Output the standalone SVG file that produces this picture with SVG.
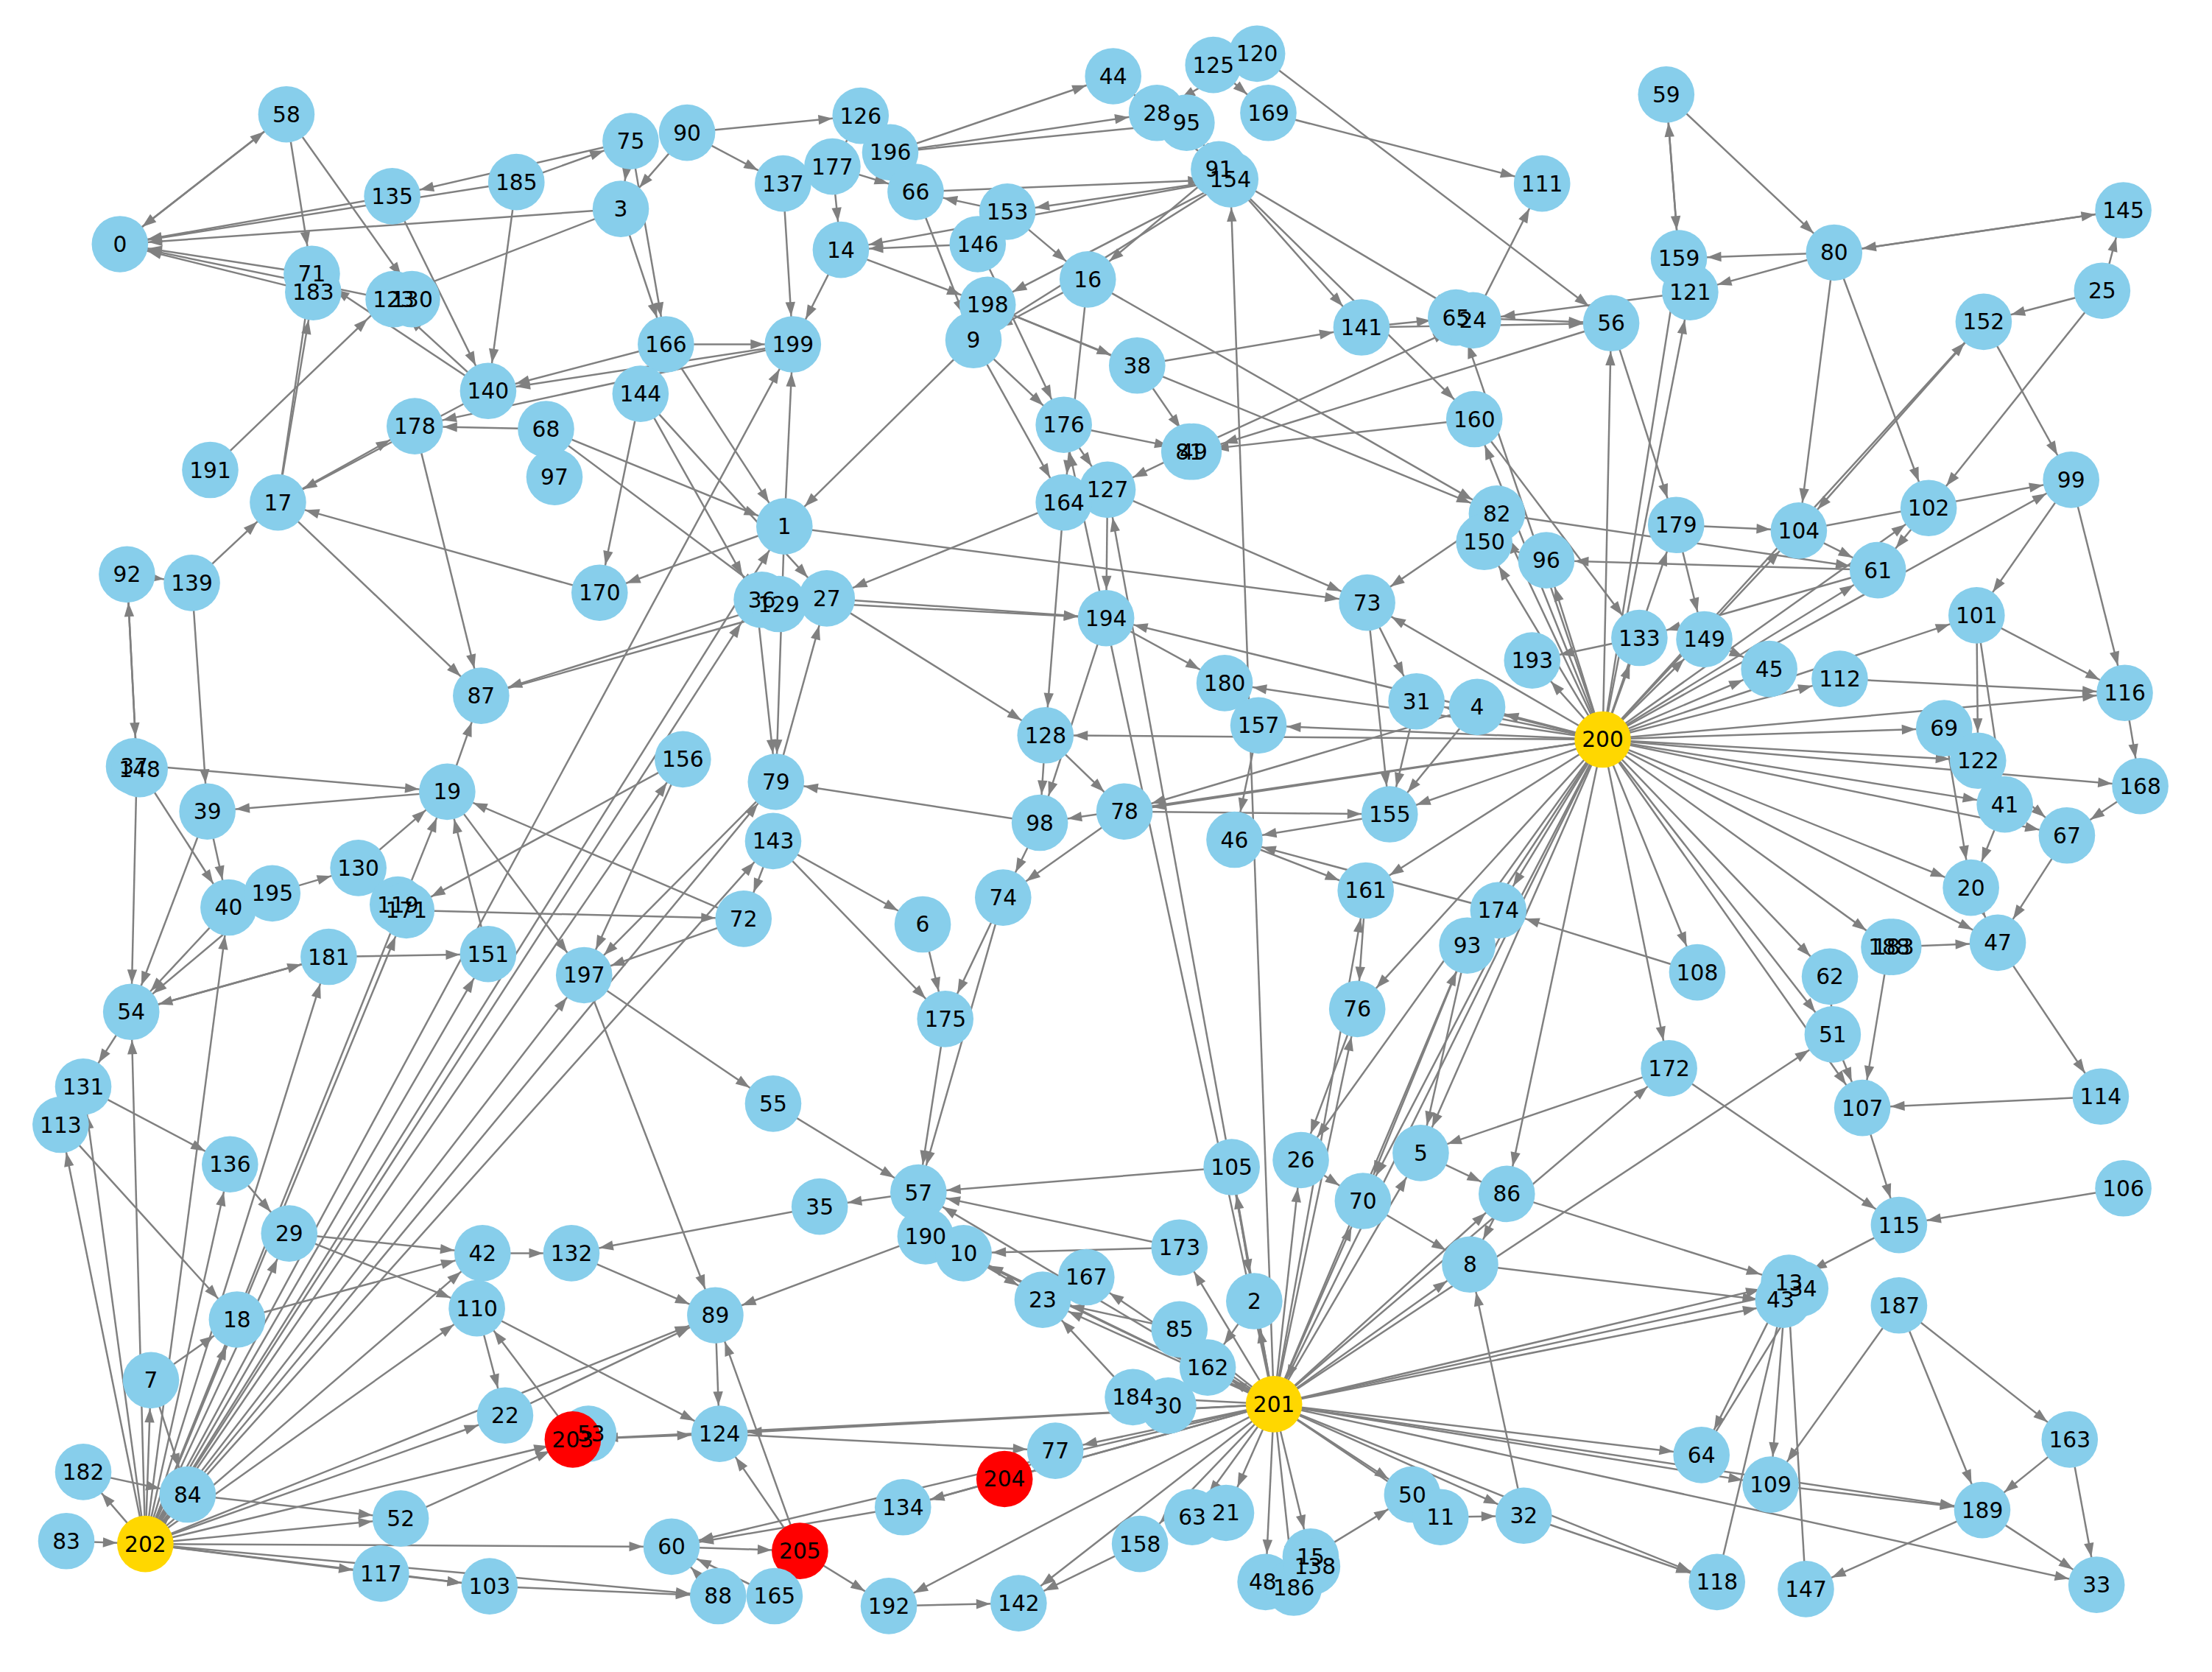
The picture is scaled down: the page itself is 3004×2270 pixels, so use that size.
<svg xmlns="http://www.w3.org/2000/svg" width="3004" height="2270" viewBox="0 0 3004 2270">
<style>
.e line{stroke:#808080;stroke-width:1.3;marker-end:url(#a)}
.n circle{fill:#87CEEB}
.y circle{fill:#FFD700}
.r circle, circle.r{fill:#FF0000}
text{font-family:"DejaVu Sans",sans-serif;font-size:15.5px;text-anchor:middle;dominant-baseline:central;fill:#000}
</style>
<defs>
<marker id="a" markerUnits="userSpaceOnUse" viewBox="0 0 40 10" refX="30" refY="3.5" markerWidth="40" markerHeight="10" orient="auto" overflow="visible"><path d="M0,0 L10,3.5 L0,7 z" fill="#808080"/></marker>
</defs>
<rect width="3004" height="2270" fill="#fff"/>
<g transform="scale(1.916)">
<g id="edges" class="e">
<line x1="1136" y1="524" x2="969" y2="427"/><line x1="1136" y1="524" x2="1086" y2="468"/><line x1="1136" y1="524" x2="1162" y2="452"/><line x1="1136" y1="524" x2="1208" y2="453"/><line x1="1136" y1="524" x2="1254" y2="474"/><line x1="1136" y1="524" x2="1304" y2="481"/><line x1="1136" y1="524" x2="1506" y2="491"/><line x1="1136" y1="524" x2="1378" y2="516"/><line x1="1136" y1="524" x2="1402" y2="539"/><line x1="1136" y1="524" x2="1517" y2="557"/><line x1="1136" y1="524" x2="1421" y2="570"/><line x1="1136" y1="524" x2="1465" y2="592"/><line x1="1136" y1="524" x2="1397" y2="629"/><line x1="1136" y1="524" x2="1339" y2="671"/><line x1="1136" y1="524" x2="1416" y2="668"/><line x1="1136" y1="524" x2="1203" y2="689"/><line x1="1136" y1="524" x2="1183" y2="757"/><line x1="1136" y1="524" x2="1040" y2="670"/><line x1="1136" y1="524" x2="1062" y2="645"/><line x1="1136" y1="524" x2="968" y2="631"/><line x1="1136" y1="524" x2="985" y2="577"/><line x1="1136" y1="524" x2="892" y2="514"/><line x1="1136" y1="524" x2="1004" y2="497"/><line x1="1136" y1="524" x2="1047" y2="501"/><line x1="1136" y1="524" x2="741" y2="521"/><line x1="1136" y1="524" x2="868" y2="484"/><line x1="1136" y1="524" x2="784" y2="438"/><line x1="1136" y1="524" x2="1096" y2="397"/><line x1="1136" y1="524" x2="1052" y2="384"/><line x1="1136" y1="524" x2="1061" y2="364"/><line x1="1136" y1="524" x2="1188" y2="372"/><line x1="1136" y1="524" x2="1275" y2="376"/><line x1="1136" y1="524" x2="1331" y2="404"/><line x1="1136" y1="524" x2="1401" y2="436"/><line x1="1136" y1="524" x2="1468" y2="340"/><line x1="1136" y1="524" x2="1367" y2="360"/><line x1="1136" y1="524" x2="1406" y2="228"/><line x1="1136" y1="524" x2="1142" y2="229"/><line x1="1136" y1="524" x2="1045" y2="297"/><line x1="1136" y1="524" x2="1034" y2="225"/><line x1="1136" y1="524" x2="962" y2="715"/><line x1="1136" y1="524" x2="1007" y2="817"/><line x1="1136" y1="524" x2="1068" y2="846"/><line x1="1136" y1="524" x2="1297" y2="692"/><line x1="1136" y1="524" x2="1299" y2="733"/><line x1="1136" y1="524" x2="1320" y2="785"/><line x1="1136" y1="524" x2="903" y2="995"/><line x1="1136" y1="524" x2="922" y2="822"/><line x1="1136" y1="524" x2="966" y2="851"/><line x1="1136" y1="524" x2="1190" y2="183"/><line x1="1136" y1="524" x2="1198" y2="207"/><line x1="1136" y1="524" x2="797" y2="575"/><line x1="1136" y1="524" x2="737" y2="583"/>
<line x1="903" y1="995" x2="889" y2="922"/><line x1="903" y1="995" x2="836" y2="942"/><line x1="903" y1="995" x2="856" y2="969"/><line x1="903" y1="995" x2="803" y2="990"/><line x1="903" y1="995" x2="836" y2="884"/><line x1="903" y1="995" x2="873" y2="827"/><line x1="903" y1="995" x2="922" y2="822"/><line x1="903" y1="995" x2="966" y2="851"/><line x1="903" y1="995" x2="1007" y2="817"/><line x1="903" y1="995" x2="1042" y2="896"/><line x1="903" y1="995" x2="1068" y2="846"/><line x1="903" y1="995" x2="1040" y2="670"/><line x1="903" y1="995" x2="1267" y2="909"/><line x1="903" y1="995" x2="1265" y2="923"/><line x1="903" y1="995" x2="1279" y2="913"/><line x1="903" y1="995" x2="1206" y2="1031"/><line x1="903" y1="995" x2="1255" y2="1052"/><line x1="903" y1="995" x2="1080" y2="1074"/><line x1="903" y1="995" x2="1021" y2="1075"/><line x1="903" y1="995" x2="1001" y2="1059"/><line x1="903" y1="995" x2="929" y2="1103"/><line x1="903" y1="995" x2="897" y2="1121"/><line x1="903" y1="995" x2="917" y2="1125"/><line x1="903" y1="995" x2="845" y2="1075"/><line x1="903" y1="995" x2="869" y2="1072"/><line x1="903" y1="995" x2="808" y2="1094"/><line x1="903" y1="995" x2="722" y2="1136"/><line x1="903" y1="995" x2="748" y2="1028"/><line x1="903" y1="995" x2="712" y2="1048"/><line x1="903" y1="995" x2="640" y2="1068"/><line x1="903" y1="995" x2="630" y2="1138"/><line x1="903" y1="995" x2="770" y2="905"/><line x1="903" y1="995" x2="739" y2="921"/><line x1="903" y1="995" x2="683" y2="888"/><line x1="903" y1="995" x2="656" y2="876"/><line x1="903" y1="995" x2="651" y2="845"/><line x1="903" y1="995" x2="510" y2="1016"/><line x1="903" y1="995" x2="408" y2="1020"/><line x1="903" y1="995" x2="476" y2="1096"/><line x1="903" y1="995" x2="754" y2="301"/><line x1="903" y1="995" x2="785" y2="347"/><line x1="903" y1="995" x2="872" y2="127"/><line x1="903" y1="995" x2="962" y2="715"/><line x1="903" y1="995" x2="968" y2="631"/><line x1="903" y1="995" x2="1183" y2="757"/><line x1="903" y1="995" x2="1299" y2="733"/><line x1="903" y1="995" x2="1405" y2="1070"/><line x1="903" y1="995" x2="1217" y2="1121"/><line x1="903" y1="995" x2="1486" y2="1123"/>
<line x1="103" y1="1094" x2="133" y2="1059"/><line x1="103" y1="1094" x2="107" y2="978"/><line x1="103" y1="1094" x2="59" y2="1043"/><line x1="103" y1="1094" x2="93" y2="717"/><line x1="103" y1="1094" x2="59" y2="770"/><line x1="103" y1="1094" x2="43" y2="797"/><line x1="103" y1="1094" x2="168" y2="935"/><line x1="103" y1="1094" x2="205" y2="874"/><line x1="103" y1="1094" x2="163" y2="825"/><line x1="103" y1="1094" x2="270" y2="1115"/><line x1="103" y1="1094" x2="347" y2="1124"/><line x1="103" y1="1094" x2="476" y2="1096"/><line x1="103" y1="1094" x2="509" y2="1131"/><line x1="103" y1="1094" x2="284" y2="1076"/><line x1="103" y1="1094" x2="358" y2="1003"/><line x1="103" y1="1094" x2="507" y2="932"/><line x1="103" y1="1094" x2="342" y2="888"/><line x1="103" y1="1094" x2="338" y2="927"/><line x1="103" y1="1094" x2="414" y2="691"/><line x1="103" y1="1094" x2="346" y2="676"/><line x1="103" y1="1094" x2="484" y2="538"/><line x1="103" y1="1094" x2="550" y2="554"/><line x1="103" y1="1094" x2="548" y2="596"/><line x1="103" y1="1094" x2="562" y2="244"/><line x1="103" y1="1094" x2="556" y2="373"/><line x1="103" y1="1094" x2="536" y2="425"/><line x1="103" y1="1094" x2="288" y2="645"/><line x1="103" y1="1094" x2="317" y2="561"/><line x1="103" y1="1094" x2="233" y2="678"/><line x1="103" y1="1094" x2="162" y2="643"/><line x1="103" y1="1094" x2="408" y2="1020"/>
<line x1="85" y1="173" x2="203" y2="81"/><line x1="203" y1="81" x2="85" y2="173"/><line x1="366" y1="129" x2="85" y2="173"/><line x1="278" y1="139" x2="85" y2="173"/><line x1="221" y1="194" x2="85" y2="173"/><line x1="222" y1="207" x2="85" y2="173"/><line x1="275" y1="212" x2="85" y2="173"/><line x1="440" y1="148" x2="85" y2="173"/><line x1="203" y1="81" x2="221" y2="194"/><line x1="203" y1="81" x2="296" y2="212"/><line x1="278" y1="139" x2="346" y2="277"/><line x1="447" y1="100" x2="278" y2="139"/><line x1="366" y1="129" x2="447" y2="100"/><line x1="366" y1="129" x2="346" y2="277"/><line x1="447" y1="100" x2="440" y2="148"/><line x1="447" y1="100" x2="472" y2="244"/><line x1="487" y1="94" x2="610" y2="82"/><line x1="487" y1="94" x2="555" y2="130"/><line x1="487" y1="94" x2="440" y2="148"/><line x1="440" y1="148" x2="472" y2="244"/><line x1="440" y1="148" x2="275" y2="212"/><line x1="610" y1="82" x2="590" y2="118"/><line x1="590" y1="118" x2="596" y2="177"/><line x1="590" y1="118" x2="649" y2="136"/><line x1="555" y1="130" x2="562" y2="244"/><line x1="631" y1="108" x2="789" y2="54"/><line x1="631" y1="108" x2="820" y2="80"/><line x1="631" y1="108" x2="841" y2="87"/><line x1="649" y1="136" x2="872" y2="127"/><line x1="649" y1="136" x2="690" y2="241"/><line x1="789" y1="54" x2="864" y2="120"/><line x1="860" y1="46" x2="899" y2="80"/><line x1="891" y1="38" x2="820" y2="80"/><line x1="841" y1="87" x2="872" y2="127"/><line x1="899" y1="80" x2="1093" y2="130"/><line x1="891" y1="38" x2="1142" y2="229"/><line x1="864" y1="120" x2="1044" y2="227"/><line x1="864" y1="120" x2="771" y2="198"/><line x1="872" y1="127" x2="714" y2="150"/><line x1="872" y1="127" x2="596" y2="177"/><line x1="872" y1="127" x2="700" y2="216"/><line x1="872" y1="127" x2="690" y2="241"/><line x1="872" y1="127" x2="1045" y2="297"/><line x1="872" y1="127" x2="965" y2="232"/><line x1="1181" y1="67" x2="1190" y2="183"/><line x1="1190" y1="183" x2="1181" y2="67"/><line x1="1181" y1="67" x2="1300" y2="179"/><line x1="1300" y1="179" x2="1505" y2="149"/><line x1="1505" y1="149" x2="1300" y2="179"/><line x1="1300" y1="179" x2="1190" y2="183"/><line x1="1300" y1="179" x2="1198" y2="207"/><line x1="1300" y1="179" x2="1367" y2="360"/><line x1="1300" y1="179" x2="1275" y2="376"/><line x1="1198" y1="207" x2="1190" y2="183"/><line x1="1198" y1="207" x2="1044" y2="227"/><line x1="1490" y1="206" x2="1505" y2="149"/><line x1="1490" y1="206" x2="1406" y2="228"/><line x1="1490" y1="206" x2="1367" y2="360"/><line x1="1406" y1="228" x2="1468" y2="340"/><line x1="1406" y1="228" x2="1275" y2="376"/><line x1="596" y1="177" x2="562" y2="244"/><line x1="596" y1="177" x2="700" y2="216"/><line x1="714" y1="150" x2="771" y2="198"/><line x1="714" y1="150" x2="649" y2="136"/><line x1="693" y1="173" x2="596" y2="177"/><line x1="693" y1="173" x2="754" y2="301"/><line x1="771" y1="198" x2="1061" y2="364"/><line x1="771" y1="198" x2="754" y2="356"/><line x1="771" y1="198" x2="690" y2="241"/><line x1="700" y1="216" x2="690" y2="241"/><line x1="700" y1="216" x2="806" y2="259"/><line x1="700" y1="216" x2="1061" y2="364"/><line x1="690" y1="241" x2="556" y2="373"/><line x1="690" y1="241" x2="754" y2="356"/><line x1="690" y1="241" x2="754" y2="301"/><line x1="472" y1="244" x2="346" y2="277"/><line x1="472" y1="244" x2="562" y2="244"/><line x1="472" y1="244" x2="454" y2="279"/><line x1="472" y1="244" x2="556" y2="373"/><line x1="562" y1="244" x2="294" y2="302"/><line x1="562" y1="244" x2="346" y2="277"/><line x1="346" y1="277" x2="197" y2="356"/><line x1="346" y1="277" x2="275" y2="212"/><line x1="346" y1="277" x2="221" y2="194"/><line x1="454" y1="279" x2="425" y2="420"/><line x1="454" y1="279" x2="586" y2="424"/><line x1="454" y1="279" x2="536" y2="425"/><line x1="387" y1="304" x2="556" y2="373"/><line x1="387" y1="304" x2="552" y2="427"/><line x1="387" y1="304" x2="294" y2="302"/><line x1="294" y1="302" x2="341" y2="493"/><line x1="393" y1="338" x2="387" y2="304"/><line x1="149" y1="333" x2="275" y2="212"/><line x1="197" y1="356" x2="221" y2="194"/><line x1="197" y1="356" x2="341" y2="493"/><line x1="197" y1="356" x2="294" y2="302"/><line x1="197" y1="356" x2="222" y2="207"/><line x1="806" y1="259" x2="965" y2="232"/><line x1="806" y1="259" x2="848" y2="320"/><line x1="965" y1="232" x2="1034" y2="225"/><line x1="965" y1="232" x2="1142" y2="229"/><line x1="1034" y1="225" x2="1142" y2="229"/><line x1="1044" y1="227" x2="1093" y2="130"/><line x1="1142" y1="229" x2="848" y2="320"/><line x1="1142" y1="229" x2="1188" y2="372"/><line x1="1045" y1="297" x2="841" y2="320"/><line x1="1045" y1="297" x2="1162" y2="452"/><line x1="754" y1="301" x2="785" y2="347"/><line x1="754" y1="301" x2="848" y2="320"/><line x1="841" y1="320" x2="785" y2="347"/><line x1="841" y1="320" x2="1044" y2="227"/><line x1="785" y1="347" x2="784" y2="438"/><line x1="785" y1="347" x2="969" y2="427"/><line x1="754" y1="356" x2="741" y2="521"/><line x1="754" y1="356" x2="586" y2="424"/><line x1="556" y1="373" x2="562" y2="244"/><line x1="556" y1="373" x2="550" y2="554"/><line x1="556" y1="373" x2="425" y2="420"/><line x1="556" y1="373" x2="969" y2="427"/><line x1="1061" y1="364" x2="1331" y2="404"/><line x1="1061" y1="364" x2="969" y2="427"/><line x1="1052" y1="384" x2="1096" y2="397"/><line x1="1188" y1="372" x2="1208" y2="453"/><line x1="1188" y1="372" x2="1275" y2="376"/><line x1="1275" y1="376" x2="1468" y2="340"/><line x1="1275" y1="376" x2="1331" y2="404"/><line x1="1367" y1="360" x2="1331" y2="404"/><line x1="1468" y1="340" x2="1401" y2="436"/><line x1="1468" y1="340" x2="1506" y2="491"/><line x1="1331" y1="404" x2="1162" y2="452"/><line x1="1331" y1="404" x2="1096" y2="397"/><line x1="90" y1="407" x2="97" y2="542"/><line x1="97" y1="542" x2="90" y2="407"/><line x1="90" y1="407" x2="136" y2="413"/><line x1="136" y1="413" x2="147" y2="575"/><line x1="136" y1="413" x2="197" y2="356"/><line x1="425" y1="420" x2="197" y2="356"/><line x1="536" y1="425" x2="550" y2="554"/><line x1="536" y1="425" x2="784" y2="438"/><line x1="552" y1="427" x2="341" y2="493"/><line x1="586" y1="424" x2="784" y2="438"/><line x1="586" y1="424" x2="741" y2="521"/><line x1="784" y1="438" x2="868" y2="484"/><line x1="784" y1="438" x2="737" y2="583"/><line x1="969" y1="427" x2="1004" y2="497"/><line x1="969" y1="427" x2="985" y2="577"/><line x1="1401" y1="436" x2="1402" y2="539"/><line x1="1401" y1="436" x2="1506" y2="491"/><line x1="1401" y1="436" x2="1421" y2="570"/><line x1="1162" y1="452" x2="1086" y2="468"/><line x1="1208" y1="453" x2="1254" y2="474"/><line x1="1304" y1="481" x2="1506" y2="491"/><line x1="1506" y1="491" x2="1517" y2="557"/><line x1="341" y1="493" x2="586" y2="424"/><line x1="868" y1="484" x2="892" y2="514"/><line x1="892" y1="514" x2="875" y2="595"/><line x1="1004" y1="497" x2="985" y2="577"/><line x1="1047" y1="501" x2="985" y2="577"/><line x1="1047" y1="501" x2="797" y2="575"/><line x1="1378" y1="516" x2="1421" y2="570"/><line x1="1378" y1="516" x2="1397" y2="629"/><line x1="1402" y1="539" x2="1465" y2="592"/><line x1="1517" y1="557" x2="1465" y2="592"/><line x1="741" y1="521" x2="737" y2="583"/><line x1="741" y1="521" x2="797" y2="575"/><line x1="97" y1="542" x2="317" y2="561"/><line x1="97" y1="542" x2="93" y2="717"/><line x1="97" y1="542" x2="162" y2="643"/><line x1="317" y1="561" x2="414" y2="691"/><line x1="317" y1="561" x2="341" y2="493"/><line x1="317" y1="561" x2="147" y2="575"/><line x1="484" y1="538" x2="288" y2="645"/><line x1="484" y1="538" x2="414" y2="691"/><line x1="550" y1="554" x2="414" y2="691"/><line x1="737" y1="583" x2="550" y2="554"/><line x1="550" y1="554" x2="586" y2="424"/><line x1="737" y1="583" x2="711" y2="636"/><line x1="797" y1="575" x2="985" y2="577"/><line x1="797" y1="575" x2="711" y2="636"/><line x1="985" y1="577" x2="875" y2="595"/><line x1="1421" y1="570" x2="1397" y2="629"/><line x1="1465" y1="592" x2="1416" y2="668"/><line x1="147" y1="575" x2="162" y2="643"/><line x1="147" y1="575" x2="93" y2="717"/><line x1="548" y1="596" x2="527" y2="651"/><line x1="548" y1="596" x2="654" y2="655"/><line x1="548" y1="596" x2="670" y2="722"/><line x1="875" y1="595" x2="968" y2="631"/><line x1="162" y1="643" x2="93" y2="717"/><line x1="193" y1="633" x2="93" y2="717"/><line x1="193" y1="633" x2="254" y2="615"/><line x1="254" y1="615" x2="317" y2="561"/><line x1="254" y1="615" x2="282" y2="641"/><line x1="282" y1="641" x2="288" y2="645"/><line x1="288" y1="645" x2="527" y2="651"/><line x1="527" y1="651" x2="317" y2="561"/><line x1="654" y1="655" x2="670" y2="722"/><line x1="711" y1="636" x2="670" y2="722"/><line x1="711" y1="636" x2="651" y2="845"/><line x1="527" y1="651" x2="414" y2="691"/><line x1="1397" y1="629" x2="1416" y2="668"/><line x1="968" y1="631" x2="962" y2="715"/><line x1="1062" y1="645" x2="1040" y2="670"/><line x1="1062" y1="645" x2="875" y2="595"/><line x1="233" y1="678" x2="346" y2="676"/><line x1="233" y1="678" x2="93" y2="717"/><line x1="346" y1="676" x2="317" y2="561"/><line x1="414" y1="691" x2="548" y2="782"/><line x1="414" y1="691" x2="507" y2="932"/><line x1="93" y1="717" x2="59" y2="770"/><line x1="93" y1="717" x2="233" y2="678"/><line x1="1040" y1="670" x2="1007" y2="817"/><line x1="1040" y1="670" x2="966" y2="851"/><line x1="1203" y1="689" x2="1062" y2="645"/><line x1="1297" y1="692" x2="1299" y2="733"/><line x1="1339" y1="671" x2="1416" y2="668"/><line x1="1339" y1="671" x2="1320" y2="785"/><line x1="1416" y1="668" x2="1489" y2="777"/><line x1="962" y1="715" x2="922" y2="822"/><line x1="670" y1="722" x2="651" y2="845"/><line x1="1299" y1="733" x2="1320" y2="785"/><line x1="59" y1="770" x2="43" y2="797"/><line x1="59" y1="770" x2="163" y2="825"/><line x1="43" y1="797" x2="168" y2="935"/><line x1="548" y1="782" x2="651" y2="845"/><line x1="1183" y1="757" x2="1346" y2="868"/><line x1="1183" y1="757" x2="1007" y2="817"/><line x1="1489" y1="777" x2="1320" y2="785"/><line x1="1320" y1="785" x2="1346" y2="868"/><line x1="873" y1="827" x2="889" y2="922"/><line x1="873" y1="827" x2="651" y2="845"/><line x1="922" y1="822" x2="966" y2="851"/><line x1="1007" y1="817" x2="1068" y2="846"/><line x1="163" y1="825" x2="205" y2="874"/><line x1="966" y1="851" x2="1042" y2="896"/><line x1="1068" y1="846" x2="1042" y2="896"/><line x1="1068" y1="846" x2="1267" y2="909"/><line x1="1505" y1="842" x2="1346" y2="868"/><line x1="651" y1="845" x2="581" y2="855"/><line x1="651" y1="845" x2="656" y2="876"/><line x1="581" y1="855" x2="405" y2="888"/><line x1="656" y1="876" x2="507" y2="932"/><line x1="656" y1="876" x2="683" y2="888"/><line x1="683" y1="888" x2="739" y2="921"/><line x1="205" y1="874" x2="342" y2="888"/><line x1="205" y1="874" x2="338" y2="927"/><line x1="342" y1="888" x2="405" y2="888"/><line x1="405" y1="888" x2="507" y2="932"/><line x1="836" y1="884" x2="651" y2="845"/><line x1="836" y1="884" x2="683" y2="888"/><line x1="1346" y1="868" x2="1267" y2="909"/><line x1="1042" y1="896" x2="1265" y2="923"/><line x1="1267" y1="909" x2="1206" y2="1031"/><line x1="1265" y1="923" x2="1255" y2="1052"/><line x1="1346" y1="925" x2="1255" y2="1052"/><line x1="1346" y1="925" x2="1467" y2="1020"/><line x1="1346" y1="925" x2="1405" y2="1070"/><line x1="338" y1="927" x2="510" y2="1016"/><line x1="338" y1="927" x2="358" y2="1003"/><line x1="168" y1="935" x2="342" y2="888"/><line x1="770" y1="905" x2="739" y2="921"/><line x1="507" y1="932" x2="510" y2="1016"/><line x1="889" y1="922" x2="856" y2="969"/><line x1="836" y1="942" x2="739" y2="921"/><line x1="107" y1="978" x2="168" y2="935"/><line x1="107" y1="978" x2="133" y2="1059"/><line x1="856" y1="969" x2="836" y2="942"/><line x1="803" y1="990" x2="739" y2="921"/><line x1="358" y1="1003" x2="507" y2="932"/><line x1="408" y1="1020" x2="510" y2="1016"/><line x1="408" y1="1020" x2="338" y2="927"/><line x1="510" y1="1016" x2="748" y2="1028"/><line x1="59" y1="1043" x2="133" y2="1059"/><line x1="133" y1="1059" x2="284" y2="1076"/><line x1="748" y1="1028" x2="712" y2="1048"/><line x1="712" y1="1048" x2="640" y2="1068"/><line x1="1206" y1="1031" x2="1279" y2="913"/><line x1="1467" y1="1020" x2="1486" y2="1123"/><line x1="1467" y1="1020" x2="1405" y2="1070"/><line x1="1001" y1="1059" x2="1021" y2="1075"/><line x1="1021" y1="1075" x2="1080" y2="1074"/><line x1="1080" y1="1074" x2="1217" y2="1121"/><line x1="1080" y1="1074" x2="1042" y2="896"/><line x1="1255" y1="1052" x2="1405" y2="1070"/><line x1="1405" y1="1070" x2="1486" y2="1123"/><line x1="1405" y1="1070" x2="1280" y2="1126"/><line x1="47" y1="1092" x2="103" y2="1094"/><line x1="284" y1="1076" x2="408" y2="1020"/><line x1="640" y1="1068" x2="476" y2="1096"/><line x1="845" y1="1075" x2="869" y2="1072"/><line x1="476" y1="1096" x2="567" y2="1099"/><line x1="567" y1="1099" x2="549" y2="1131"/><line x1="567" y1="1099" x2="630" y2="1138"/><line x1="567" y1="1099" x2="510" y2="1016"/><line x1="567" y1="1099" x2="507" y2="932"/><line x1="808" y1="1094" x2="722" y2="1136"/><line x1="929" y1="1103" x2="1001" y2="1059"/><line x1="270" y1="1115" x2="347" y2="1124"/><line x1="347" y1="1124" x2="509" y2="1131"/><line x1="509" y1="1131" x2="476" y2="1096"/><line x1="549" y1="1131" x2="476" y2="1096"/><line x1="630" y1="1138" x2="722" y2="1136"/><line x1="1217" y1="1121" x2="1267" y2="909"/><line x1="1280" y1="1126" x2="1267" y2="909"/>
</g>
<g id="n0" class="n"><circle cx="85" cy="173" r="20"/><text x="85" y="173">0</text></g>
<g id="n58" class="n"><circle cx="203" cy="81" r="20"/><text x="203" y="81">58</text></g>
<g id="n135" class="n"><circle cx="278" cy="139" r="20"/><text x="278" y="139">135</text></g>
<g id="n185" class="n"><circle cx="366" cy="129" r="20"/><text x="366" y="129">185</text></g>
<g id="n75" class="n"><circle cx="447" cy="100" r="20"/><text x="447" y="100">75</text></g>
<g id="n90" class="n"><circle cx="487" cy="94" r="20"/><text x="487" y="94">90</text></g>
<g id="n126" class="n"><circle cx="610" cy="82" r="20"/><text x="610" y="82">126</text></g>
<g id="n3" class="n"><circle cx="440" cy="148" r="20"/><text x="440" y="148">3</text></g>
<g id="n71_183" class="n"><circle cx="221" cy="194" r="20"/><circle cx="222" cy="207" r="20"/><text x="221" y="194">71</text><text x="222" y="207">183</text></g>
<g id="n123_130" class="n"><circle cx="279" cy="212" r="20"/><circle cx="292" cy="212" r="20"/><text x="279" y="212">123</text><text x="292" y="212">130</text></g>
<g id="n137" class="n"><circle cx="555" cy="130" r="20"/><text x="555" y="130">137</text></g>
<g id="n177" class="n"><circle cx="590" cy="118" r="20"/><text x="590" y="118">177</text></g>
<g id="n196" class="n"><circle cx="631" cy="108" r="20"/><text x="631" y="108">196</text></g>
<g id="n66" class="n"><circle cx="649" cy="136" r="20"/><text x="649" y="136">66</text></g>
<g id="n44" class="n"><circle cx="789" cy="54" r="20"/><text x="789" y="54">44</text></g>
<g id="n120_125" class="n"><circle cx="891" cy="38" r="20"/><circle cx="860" cy="46" r="20"/><text x="891" y="38">120</text><text x="860" y="46">125</text></g>
<g id="n28_95" class="n"><circle cx="820" cy="80" r="20"/><circle cx="841" cy="87" r="20"/><text x="820" y="80">28</text><text x="841" y="87">95</text></g>
<g id="n169" class="n"><circle cx="899" cy="80" r="20"/><text x="899" y="80">169</text></g>
<g id="n91_154" class="n"><circle cx="864" cy="120" r="20"/><circle cx="872" cy="127" r="20"/><text x="864" y="120">91</text><text x="872" y="127">154</text></g>
<g id="n111" class="n"><circle cx="1093" cy="130" r="20"/><text x="1093" y="130">111</text></g>
<g id="n59" class="n"><circle cx="1181" cy="67" r="20"/><text x="1181" y="67">59</text></g>
<g id="n145" class="n"><circle cx="1505" cy="149" r="20"/><text x="1505" y="149">145</text></g>
<g id="n80" class="n"><circle cx="1300" cy="179" r="20"/><text x="1300" y="179">80</text></g>
<g id="n159_121" class="n"><circle cx="1190" cy="183" r="20"/><circle cx="1198" cy="207" r="20"/><text x="1190" y="183">159</text><text x="1198" y="207">121</text></g>
<g id="n25" class="n"><circle cx="1490" cy="206" r="20"/><text x="1490" y="206">25</text></g>
<g id="n152" class="n"><circle cx="1406" cy="228" r="20"/><text x="1406" y="228">152</text></g>
<g id="n14" class="n"><circle cx="596" cy="177" r="20"/><text x="596" y="177">14</text></g>
<g id="n153_146" class="n"><circle cx="714" cy="150" r="20"/><circle cx="693" cy="173" r="20"/><text x="714" y="150">153</text><text x="693" y="173">146</text></g>
<g id="n16" class="n"><circle cx="771" cy="198" r="20"/><text x="771" y="198">16</text></g>
<g id="n198_9" class="n"><circle cx="700" cy="216" r="20"/><circle cx="690" cy="241" r="20"/><text x="700" y="216">198</text><text x="690" y="241">9</text></g>
<g id="n166" class="n"><circle cx="472" cy="244" r="20"/><text x="472" y="244">166</text></g>
<g id="n199" class="n"><circle cx="562" cy="244" r="20"/><text x="562" y="244">199</text></g>
<g id="n140" class="n"><circle cx="346" cy="277" r="20"/><text x="346" y="277">140</text></g>
<g id="n144" class="n"><circle cx="454" cy="279" r="20"/><text x="454" y="279">144</text></g>
<g id="n68_97" class="n"><circle cx="387" cy="304" r="20"/><circle cx="393" cy="338" r="20"/><text x="387" y="304">68</text><text x="393" y="338">97</text></g>
<g id="n178" class="n"><circle cx="294" cy="302" r="20"/><text x="294" y="302">178</text></g>
<g id="n191" class="n"><circle cx="149" cy="333" r="20"/><text x="149" y="333">191</text></g>
<g id="n17" class="n"><circle cx="197" cy="356" r="20"/><text x="197" y="356">17</text></g>
<g id="n38" class="n"><circle cx="806" cy="259" r="20"/><text x="806" y="259">38</text></g>
<g id="n141" class="n"><circle cx="965" cy="232" r="20"/><text x="965" y="232">141</text></g>
<g id="n65_24" class="n"><circle cx="1032" cy="225" r="20"/><circle cx="1044" cy="227" r="20"/><text x="1032" y="225">65</text><text x="1044" y="227">24</text></g>
<g id="n56" class="n"><circle cx="1142" cy="229" r="20"/><text x="1142" y="229">56</text></g>
<g id="n160" class="n"><circle cx="1045" cy="297" r="20"/><text x="1045" y="297">160</text></g>
<g id="n176" class="n"><circle cx="754" cy="301" r="20"/><text x="754" y="301">176</text></g>
<g id="n81_49" class="n"><circle cx="843" cy="320" r="20"/><circle cx="846" cy="320" r="20"/><text x="843" y="320">81</text><text x="846" y="320">49</text></g>
<g id="n127_164" class="n"><circle cx="785" cy="347" r="20"/><circle cx="754" cy="356" r="20"/><text x="785" y="347">127</text><text x="754" y="356">164</text></g>
<g id="n1" class="n"><circle cx="556" cy="373" r="20"/><text x="556" y="373">1</text></g>
<g id="n82_150" class="n"><circle cx="1061" cy="364" r="20"/><circle cx="1052" cy="384" r="20"/><text x="1061" y="364">82</text><text x="1052" y="384">150</text></g>
<g id="n179" class="n"><circle cx="1188" cy="372" r="20"/><text x="1188" y="372">179</text></g>
<g id="n104" class="n"><circle cx="1275" cy="376" r="20"/><text x="1275" y="376">104</text></g>
<g id="n102" class="n"><circle cx="1367" cy="360" r="20"/><text x="1367" y="360">102</text></g>
<g id="n99" class="n"><circle cx="1468" cy="340" r="20"/><text x="1468" y="340">99</text></g>
<g id="n96" class="n"><circle cx="1096" cy="397" r="20"/><text x="1096" y="397">96</text></g>
<g id="n61" class="n"><circle cx="1331" cy="404" r="20"/><text x="1331" y="404">61</text></g>
<g id="n92" class="n"><circle cx="90" cy="407" r="20"/><text x="90" y="407">92</text></g>
<g id="n139" class="n"><circle cx="136" cy="413" r="20"/><text x="136" y="413">139</text></g>
<g id="n170" class="n"><circle cx="425" cy="420" r="20"/><text x="425" y="420">170</text></g>
<g id="n36_129_27" class="n"><circle cx="540" cy="425" r="20"/><circle cx="552" cy="428" r="20"/><circle cx="586" cy="424" r="20"/><text x="540" y="425">36</text><text x="552" y="428">129</text><text x="586" y="424">27</text></g>
<g id="n194" class="n"><circle cx="784" cy="438" r="20"/><text x="784" y="438">194</text></g>
<g id="n73" class="n"><circle cx="969" cy="427" r="20"/><text x="969" y="427">73</text></g>
<g id="n101" class="n"><circle cx="1401" cy="436" r="20"/><text x="1401" y="436">101</text></g>
<g id="n133_149" class="n"><circle cx="1162" cy="452" r="20"/><circle cx="1208" cy="453" r="20"/><text x="1162" y="452">133</text><text x="1208" y="453">149</text></g>
<g id="n193" class="n"><circle cx="1086" cy="468" r="20"/><text x="1086" y="468">193</text></g>
<g id="n45" class="n"><circle cx="1254" cy="474" r="20"/><text x="1254" y="474">45</text></g>
<g id="n112" class="n"><circle cx="1304" cy="481" r="20"/><text x="1304" y="481">112</text></g>
<g id="n116" class="n"><circle cx="1506" cy="491" r="20"/><text x="1506" y="491">116</text></g>
<g id="n87" class="n"><circle cx="341" cy="493" r="20"/><text x="341" y="493">87</text></g>
<g id="n180_157" class="n"><circle cx="868" cy="484" r="20"/><circle cx="892" cy="514" r="20"/><text x="868" y="484">180</text><text x="892" y="514">157</text></g>
<g id="n31_4" class="n"><circle cx="1004" cy="497" r="20"/><circle cx="1047" cy="501" r="20"/><text x="1004" y="497">31</text><text x="1047" y="501">4</text></g>
<g id="n69_122" class="n"><circle cx="1378" cy="516" r="20"/><circle cx="1402" cy="539" r="20"/><text x="1378" y="516">69</text><text x="1402" y="539">122</text></g>
<g id="n168" class="n"><circle cx="1517" cy="557" r="20"/><text x="1517" y="557">168</text></g>
<g id="n128" class="n"><circle cx="741" cy="521" r="20"/><text x="741" y="521">128</text></g>
<g id="n37_148" class="n"><circle cx="95" cy="543" r="20"/><circle cx="99" cy="545" r="20"/><text x="95" y="543">37</text><text x="99" y="545">148</text></g>
<g id="n19" class="n"><circle cx="317" cy="561" r="20"/><text x="317" y="561">19</text></g>
<g id="n156" class="n"><circle cx="484" cy="538" r="20"/><text x="484" y="538">156</text></g>
<g id="n79" class="n"><circle cx="550" cy="554" r="20"/><text x="550" y="554">79</text></g>
<g id="n98_78" class="n"><circle cx="737" cy="583" r="20"/><circle cx="797" cy="575" r="20"/><text x="737" y="583">98</text><text x="797" y="575">78</text></g>
<g id="n155" class="n"><circle cx="985" cy="577" r="20"/><text x="985" y="577">155</text></g>
<g id="n41_67" class="n"><circle cx="1421" cy="570" r="20"/><circle cx="1465" cy="592" r="20"/><text x="1421" y="570">41</text><text x="1465" y="592">67</text></g>
<g id="n39" class="n"><circle cx="147" cy="575" r="20"/><text x="147" y="575">39</text></g>
<g id="n143" class="n"><circle cx="548" cy="596" r="20"/><text x="548" y="596">143</text></g>
<g id="n46" class="n"><circle cx="875" cy="595" r="20"/><text x="875" y="595">46</text></g>
<g id="n40_195" class="n"><circle cx="162" cy="643" r="20"/><circle cx="193" cy="633" r="20"/><text x="162" y="643">40</text><text x="193" y="633">195</text></g>
<g id="n130_119_171" class="n"><circle cx="254" cy="615" r="20"/><circle cx="282" cy="641" r="20"/><circle cx="288" cy="645" r="20"/><text x="254" y="615">130</text><text x="282" y="641">119</text><text x="288" y="645">171</text></g>
<g id="n6" class="n"><circle cx="654" cy="655" r="20"/><text x="654" y="655">6</text></g>
<g id="n74" class="n"><circle cx="711" cy="636" r="20"/><text x="711" y="636">74</text></g>
<g id="n72" class="n"><circle cx="527" cy="651" r="20"/><text x="527" y="651">72</text></g>
<g id="n20" class="n"><circle cx="1397" cy="629" r="20"/><text x="1397" y="629">20</text></g>
<g id="n161" class="n"><circle cx="968" cy="631" r="20"/><text x="968" y="631">161</text></g>
<g id="n174_93" class="n"><circle cx="1062" cy="645" r="20"/><circle cx="1040" cy="670" r="20"/><text x="1062" y="645">174</text><text x="1040" y="670">93</text></g>
<g id="n181" class="n"><circle cx="233" cy="678" r="20"/><text x="233" y="678">181</text></g>
<g id="n151" class="n"><circle cx="346" cy="676" r="20"/><text x="346" y="676">151</text></g>
<g id="n197" class="n"><circle cx="414" cy="691" r="20"/><text x="414" y="691">197</text></g>
<g id="n54" class="n"><circle cx="93" cy="717" r="20"/><text x="93" y="717">54</text></g>
<g id="n108" class="n"><circle cx="1203" cy="689" r="20"/><text x="1203" y="689">108</text></g>
<g id="n62" class="n"><circle cx="1297" cy="692" r="20"/><text x="1297" y="692">62</text></g>
<g id="n188_183" class="n"><circle cx="1339" cy="671" r="20"/><circle cx="1342" cy="671" r="20"/><text x="1339" y="671">188</text><text x="1342" y="671">183</text></g>
<g id="n47" class="n"><circle cx="1416" cy="668" r="20"/><text x="1416" y="668">47</text></g>
<g id="n76" class="n"><circle cx="962" cy="715" r="20"/><text x="962" y="715">76</text></g>
<g id="n175" class="n"><circle cx="670" cy="722" r="20"/><text x="670" y="722">175</text></g>
<g id="n51" class="n"><circle cx="1299" cy="733" r="20"/><text x="1299" y="733">51</text></g>
<g id="n131_113" class="n"><circle cx="59" cy="770" r="20"/><circle cx="43" cy="797" r="20"/><text x="59" y="770">131</text><text x="43" y="797">113</text></g>
<g id="n55" class="n"><circle cx="548" cy="782" r="20"/><text x="548" y="782">55</text></g>
<g id="n172" class="n"><circle cx="1183" cy="757" r="20"/><text x="1183" y="757">172</text></g>
<g id="n114" class="n"><circle cx="1489" cy="777" r="20"/><text x="1489" y="777">114</text></g>
<g id="n107" class="n"><circle cx="1320" cy="785" r="20"/><text x="1320" y="785">107</text></g>
<g id="n105" class="n"><circle cx="873" cy="827" r="20"/><text x="873" y="827">105</text></g>
<g id="n26" class="n"><circle cx="922" cy="822" r="20"/><text x="922" y="822">26</text></g>
<g id="n5" class="n"><circle cx="1007" cy="817" r="20"/><text x="1007" y="817">5</text></g>
<g id="n136" class="n"><circle cx="163" cy="825" r="20"/><text x="163" y="825">136</text></g>
<g id="n70" class="n"><circle cx="966" cy="851" r="20"/><text x="966" y="851">70</text></g>
<g id="n86" class="n"><circle cx="1068" cy="846" r="20"/><text x="1068" y="846">86</text></g>
<g id="n106" class="n"><circle cx="1505" cy="842" r="20"/><text x="1505" y="842">106</text></g>
<g id="n57_190_10" class="n"><circle cx="651" cy="845" r="20"/><circle cx="656" cy="876" r="20"/><circle cx="683" cy="888" r="20"/><text x="651" y="845">57</text><text x="656" y="876">190</text><text x="683" y="888">10</text></g>
<g id="n35" class="n"><circle cx="581" cy="855" r="20"/><text x="581" y="855">35</text></g>
<g id="n29" class="n"><circle cx="205" cy="874" r="20"/><text x="205" y="874">29</text></g>
<g id="n42_132" class="n"><circle cx="342" cy="888" r="20"/><circle cx="405" cy="888" r="20"/><text x="342" y="888">42</text><text x="405" y="888">132</text></g>
<g id="n173" class="n"><circle cx="836" cy="884" r="20"/><text x="836" y="884">173</text></g>
<g id="n115" class="n"><circle cx="1346" cy="868" r="20"/><text x="1346" y="868">115</text></g>
<g id="n8" class="n"><circle cx="1042" cy="896" r="20"/><text x="1042" y="896">8</text></g>
<g id="n13_34_43" class="n"><circle cx="1268" cy="909" r="20"/><circle cx="1276" cy="913" r="20"/><circle cx="1264" cy="921" r="20"/><text x="1268" y="909">13</text><text x="1278" y="913">34</text><text x="1262" y="921">43</text></g>
<g id="n187" class="n"><circle cx="1346" cy="925" r="20"/><text x="1346" y="925">187</text></g>
<g id="n110" class="n"><circle cx="338" cy="927" r="20"/><text x="338" y="927">110</text></g>
<g id="n18" class="n"><circle cx="168" cy="935" r="20"/><text x="168" y="935">18</text></g>
<g id="n167_23" class="n"><circle cx="770" cy="905" r="20"/><circle cx="739" cy="921" r="20"/><text x="770" y="905">167</text><text x="739" y="921">23</text></g>
<g id="n89" class="n"><circle cx="507" cy="932" r="20"/><text x="507" y="932">89</text></g>
<g id="n2" class="n"><circle cx="889" cy="922" r="20"/><text x="889" y="922">2</text></g>
<g id="n7" class="n"><circle cx="107" cy="978" r="20"/><text x="107" y="978">7</text></g>
<g id="n85_162_184_30" class="n"><circle cx="836" cy="942" r="20"/><circle cx="856" cy="969" r="20"/><circle cx="803" cy="990" r="20"/><circle cx="828" cy="996" r="20"/><text x="836" y="942">85</text><text x="856" y="969">162</text><text x="803" y="990">184</text><text x="828" y="996">30</text></g>
<g id="n201" class="y"><circle cx="903" cy="995" r="20"/><text x="903" y="995">201</text></g>
<g id="n22" class="n"><circle cx="358" cy="1003" r="20"/><text x="358" y="1003">22</text></g>
<g id="n203_53" class="n"><circle cx="417" cy="1016" r="20"/><circle class="r" cx="406" cy="1020" r="20"/><text x="406" y="1020">203</text><text x="419" y="1016">53</text></g>
<g id="n124" class="n"><circle cx="510" cy="1016" r="20"/><text x="510" y="1016">124</text></g>
<g id="n182" class="n"><circle cx="59" cy="1043" r="20"/><text x="59" y="1043">182</text></g>
<g id="n84" class="n"><circle cx="133" cy="1059" r="20"/><text x="133" y="1059">84</text></g>
<g id="n77" class="n"><circle cx="748" cy="1028" r="20"/><text x="748" y="1028">77</text></g>
<g id="n204" class="r"><circle cx="712" cy="1048" r="20"/><text x="712" y="1048">204</text></g>
<g id="n64" class="n"><circle cx="1206" cy="1031" r="20"/><text x="1206" y="1031">64</text></g>
<g id="n163" class="n"><circle cx="1467" cy="1020" r="20"/><text x="1467" y="1020">163</text></g>
<g id="n50_11" class="n"><circle cx="1001" cy="1059" r="20"/><circle cx="1021" cy="1075" r="20"/><text x="1001" y="1059">50</text><text x="1021" y="1075">11</text></g>
<g id="n32" class="n"><circle cx="1080" cy="1074" r="20"/><text x="1080" y="1074">32</text></g>
<g id="n109" class="n"><circle cx="1255" cy="1052" r="20"/><text x="1255" y="1052">109</text></g>
<g id="n189" class="n"><circle cx="1405" cy="1070" r="20"/><text x="1405" y="1070">189</text></g>
<g id="n83" class="n"><circle cx="47" cy="1092" r="20"/><text x="47" y="1092">83</text></g>
<g id="n202" class="y"><circle cx="103" cy="1094" r="20"/><text x="103" y="1094">202</text></g>
<g id="n52" class="n"><circle cx="284" cy="1076" r="20"/><text x="284" y="1076">52</text></g>
<g id="n134" class="n"><circle cx="640" cy="1068" r="20"/><text x="640" y="1068">134</text></g>
<g id="n63_21" class="n"><circle cx="845" cy="1075" r="20"/><circle cx="869" cy="1072" r="20"/><text x="845" y="1075">63</text><text x="869" y="1072">21</text></g>
<g id="n60" class="n"><circle cx="476" cy="1096" r="20"/><text x="476" y="1096">60</text></g>
<g id="n205" class="r"><circle cx="567" cy="1099" r="20"/><text x="567" y="1099">205</text></g>
<g id="n158" class="n"><circle cx="808" cy="1094" r="20"/><text x="808" y="1094">158</text></g>
<g id="n48_186_15_138" class="n"><circle cx="897" cy="1121" r="20"/><circle cx="917" cy="1125" r="20"/><circle cx="929" cy="1103" r="20"/><circle cx="930" cy="1110" r="20"/><text x="895" y="1121">48</text><text x="917" y="1125">186</text><text x="929" y="1103">15</text><text x="932" y="1110">138</text></g>
<g id="n117" class="n"><circle cx="270" cy="1115" r="20"/><text x="270" y="1115">117</text></g>
<g id="n103" class="n"><circle cx="347" cy="1124" r="20"/><text x="347" y="1124">103</text></g>
<g id="n88_165" class="n"><circle cx="509" cy="1131" r="20"/><circle cx="549" cy="1131" r="20"/><text x="509" y="1131">88</text><text x="549" y="1131">165</text></g>
<g id="n192" class="n"><circle cx="630" cy="1138" r="20"/><text x="630" y="1138">192</text></g>
<g id="n142" class="n"><circle cx="722" cy="1136" r="20"/><text x="722" y="1136">142</text></g>
<g id="n118" class="n"><circle cx="1217" cy="1121" r="20"/><text x="1217" y="1121">118</text></g>
<g id="n147" class="n"><circle cx="1280" cy="1126" r="20"/><text x="1280" y="1126">147</text></g>
<g id="n33" class="n"><circle cx="1486" cy="1123" r="20"/><text x="1486" y="1123">33</text></g>
<g id="n200" class="y"><circle cx="1136" cy="524" r="20"/><text x="1136" y="524">200</text></g>
</g>
</svg>
